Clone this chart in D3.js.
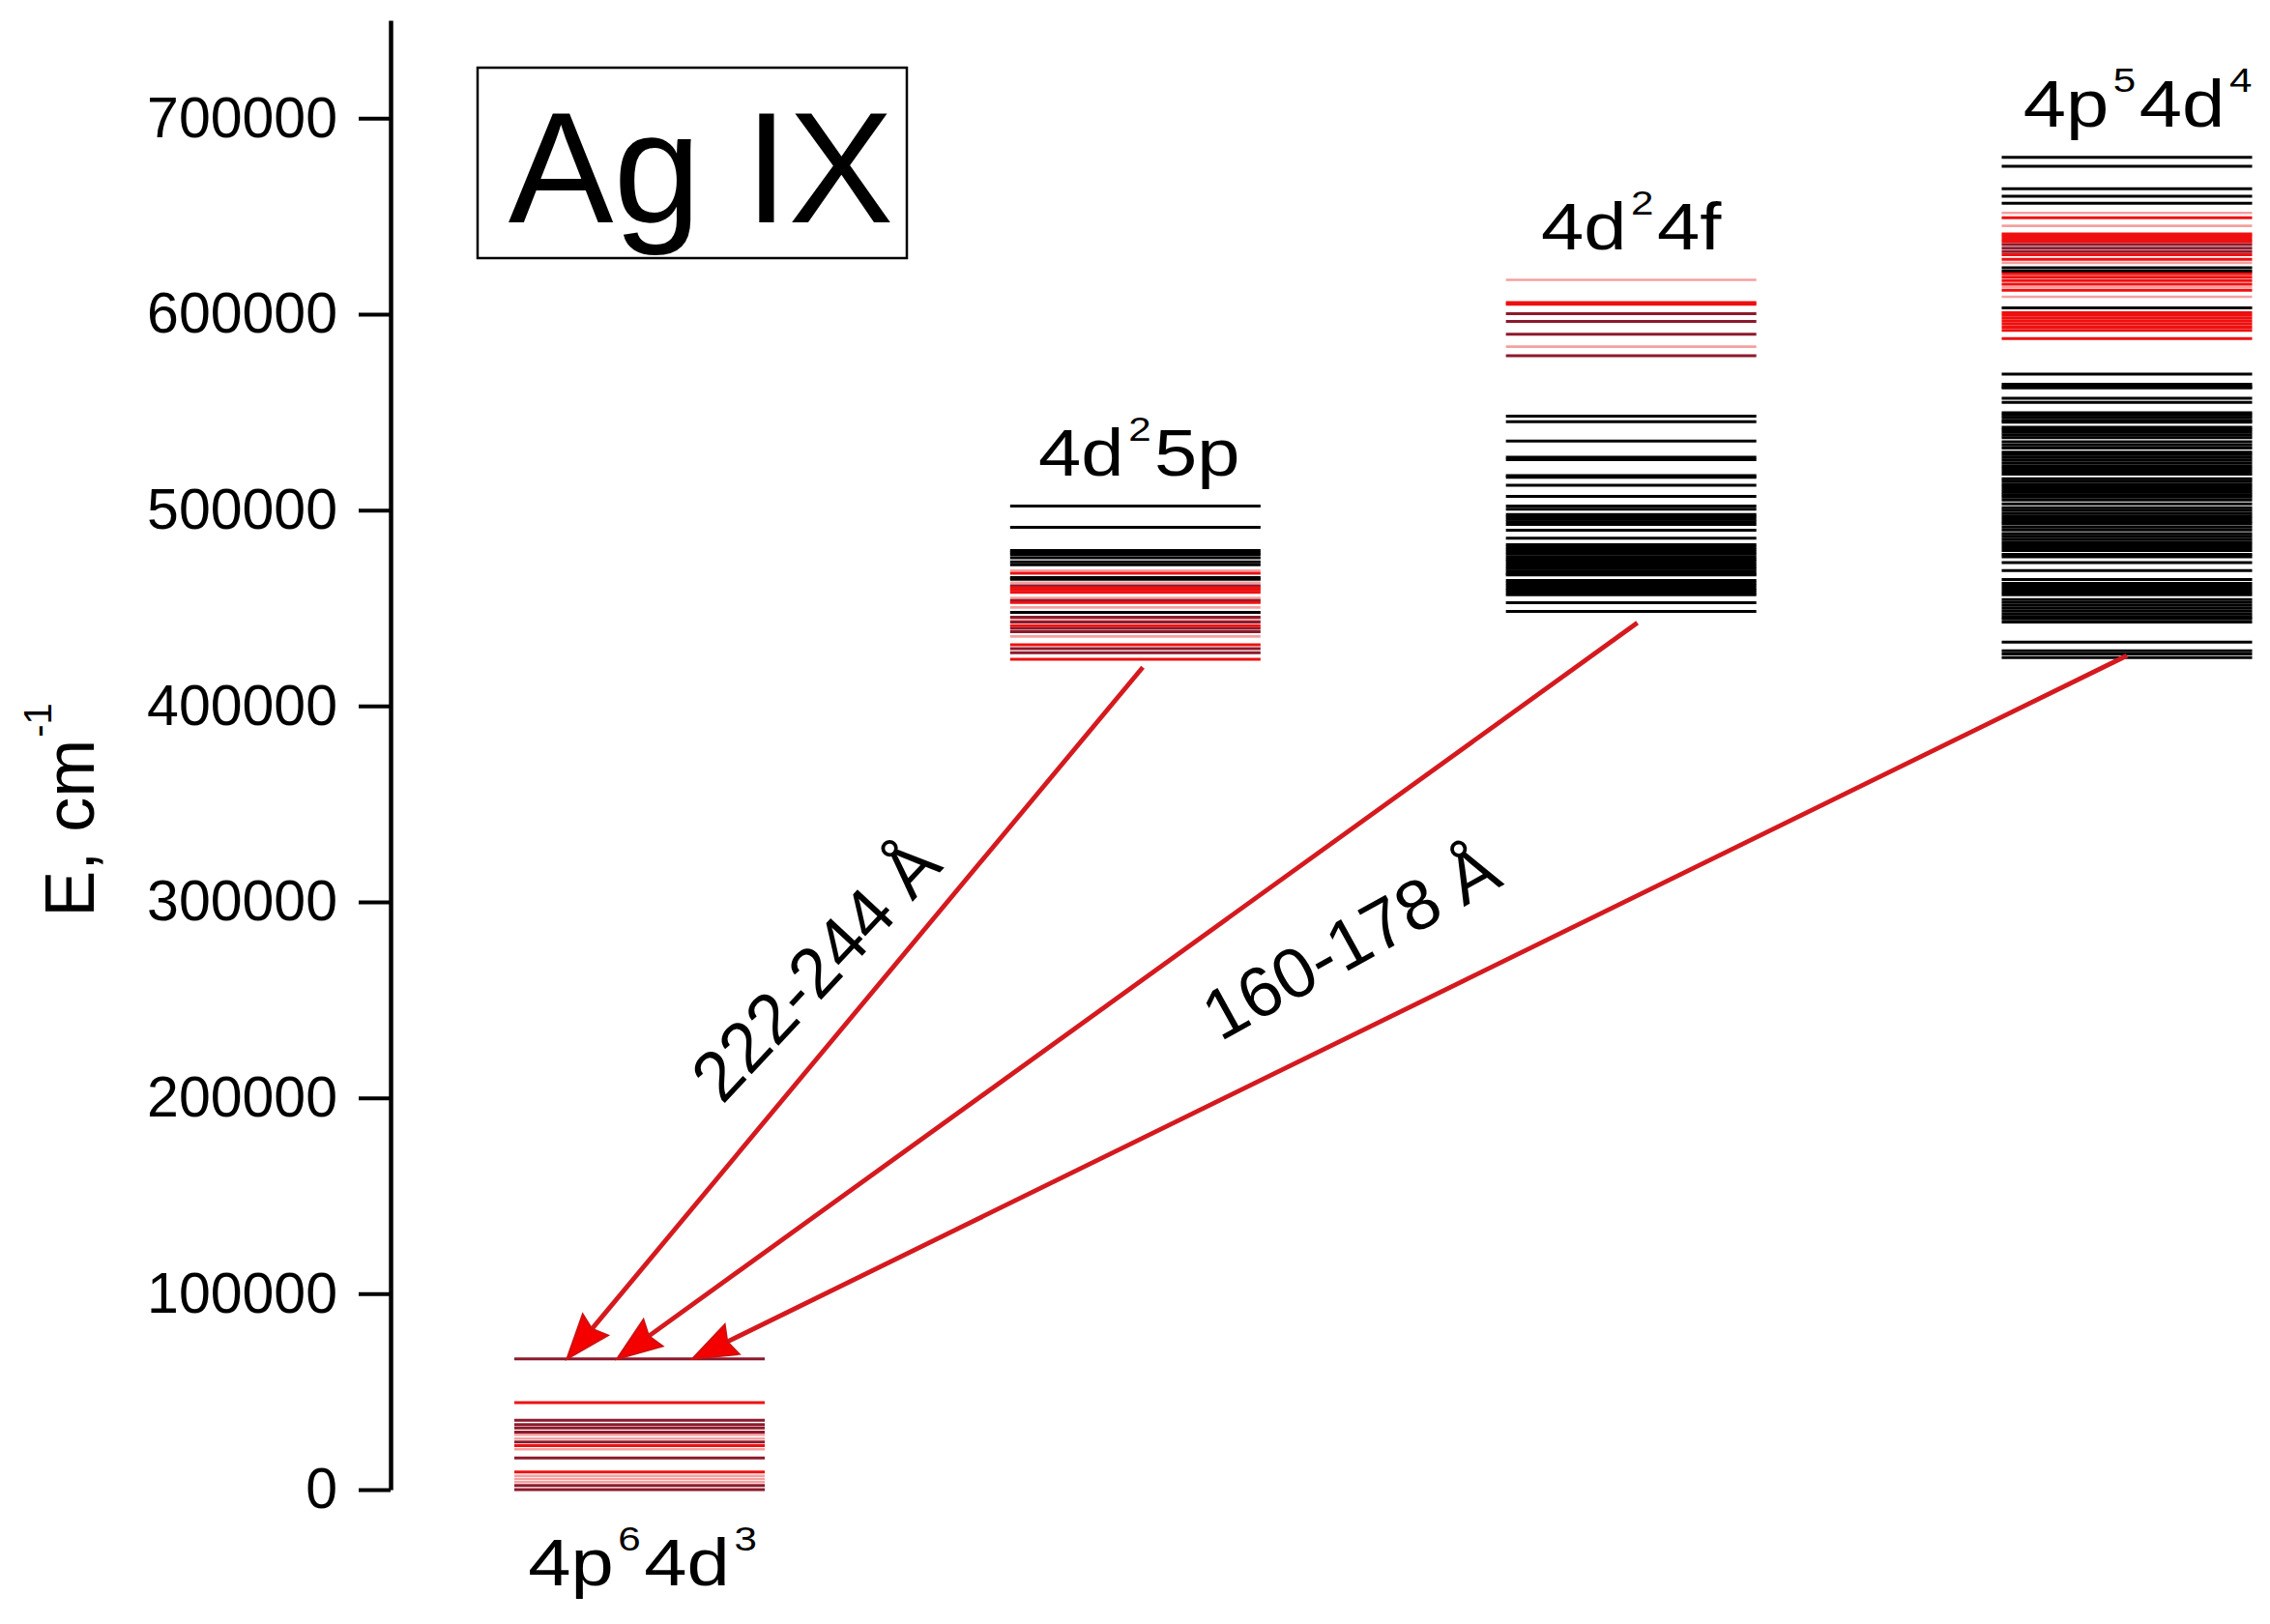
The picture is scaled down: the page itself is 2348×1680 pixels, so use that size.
<!DOCTYPE html>
<html><head><meta charset="utf-8">
<script src="https://cdn.jsdelivr.net/npm/d3@7"></script>
<style>
html,body{margin:0;padding:0;background:#fff;}
svg{display:block;}
text{font-family:"Liberation Sans",Arial,Helvetica,sans-serif;fill:#000;}
</style>
</head><body>
<svg id="chart" width="2348" height="1680"></svg>
<script>
// ---------------- DATA ----------------
const configs = ["4p64d3", "4d25p", "4d24f", "4p54d4"];
// label segments: [normal, superscript, normal, superscript ...]
const configLabels = [["4p","6","4d","3"], ["4d","2","5p"], ["4d","2","4f"], ["4p","5","4d","4"]];

const majorTicks = [0, 100000, 200000, 300000, 400000, 500000, 600000, 700000];
const minorTicks = [50000, 150000, 250000, 350000, 450000, 550000, 650000, 750000];
const yLabelMain = "E, cm";
const yLabelSup = "-1";
const title = "Ag IX";

// 4p6 4d3 (ground configuration) levels, cm-1
const groundRed  = [44400, 22400, 9000];
const groundDark = [66700, 35400, 33200, 31500, 29300, 24300, 16100, 2100, 0];
const groundPink = [28000, 26000, 20600, 7000, 5400, 3800];
const groundBlack = [];

// 4d2 5p levels
const p5Black = [502000, 491200, 479400, 478300, 477200, 475600, 473500, 472100, 465500, 464700, 447800];
const p5Red   = [467800, 460400, 459200, 458000, 452800, 441000, 431300, 423900];
const p5Dark  = [461400, 453800, 445300, 442800, 439600, 437900, 429300, 427200];
const p5Pink  = [469100, 462900, 455100, 450300, 444000, 435500];

// 4d2 4f levels
const f4Black = [548000, 545100, 535200, 527000, 525800, 517600, 516700, 512700, 507000, 502000, 500400,
  497800, 496600, 495300, 494000, 492700, 489700, 485600,
  482300, 481100, 479800, 478600, 477500, 476100, 474900, 473800, 472500, 471200, 470100, 468900, 467700, 466900,
  464100, 462800, 461600, 460300, 459100, 457900, 456800, 452700, 448300];
const f4Red  = [605900, 605100];
const f4Dark = [600300, 596300, 589700, 578800];
const f4Pink = [617500, 583400];

// 4p5 4d4 levels
const d4Black = [680000, 675500, 664000, 660200, 656600, 623700, 622000, 603200,
  569400, 564200, 563000, 562400, 557100, 555000,
  549700, 548500, 547300, 545900, 544800,
  542300, 541000, 539700, 538300, 537000,
  534900, 533300, 531700,
  529600, 528300, 527000, 525600, 524100, 522700, 521300, 519800, 518400,
  516000, 514700, 513300, 511900, 510500, 509100, 507800,
  506600, 505100, 503200,
  501200, 499800, 498400, 497000, 495600, 494200, 492900,
  491300, 489900,
  488000, 486600, 485200, 483700, 482300, 480800, 479300,
  477400, 476100, 473200, 469100, 464500,
  462600, 461100, 459600, 458200, 456800,
  454300, 452800, 451400, 449900, 448400, 446900, 445500, 444400, 442800,
  432600, 428200, 426600, 424700];
const d4Red  = [649200, 641000, 639700, 638300, 637000, 630400, 628000, 620600, 618900, 617100, 615300, 612200,
  600800, 599400, 597900, 596400, 594900, 593400, 591700, 587500];
const d4Dark = [635500, 633700, 631900];
const d4Pink = [651700, 645100, 626200, 613800, 608900];

const transitions = [
  {from: "4d25p",  to: "4p64d3", upperE: 419800, lowerE: 66700, label: "222-244 Å"},
  {from: "4d24f",  to: "4p64d3", upperE: 442500, lowerE: 66700, label: ""},
  {from: "4p54d4", to: "4p64d3", upperE: 425700, lowerE: 66700, label: "160-178 Å"}
];

// ---------------- BUILD TABLE ----------------
const levelSets = {
  "4p64d3": {black: groundBlack, pink: groundPink, dark: groundDark, red: groundRed},
  "4d25p":  {black: p5Black, pink: p5Pink, dark: p5Dark, red: p5Red},
  "4d24f":  {black: f4Black, pink: f4Pink, dark: f4Dark, red: f4Red},
  "4p54d4": {black: d4Black, pink: d4Pink, dark: d4Dark, red: d4Red}
};
const kinds = ["black", "pink", "dark", "red"];
const levelRows = [];
configs.forEach(c => kinds.forEach(k => levelSets[c][k].forEach(e => levelRows.push({config: c, kind: k, E: e}))));

// ---------------- LAYOUT ----------------
const svg = d3.select("#chart");
svg.append("rect").attr("width", 2348).attr("height", 1680).attr("fill", "#fff");

const x = d3.scalePoint().domain(configs).range([661.5, 2200]);
const y = d3.scaleLinear().domain([0, 750000]).range([1541, 21]);
const blockW = 259;
const color = d3.scaleOrdinal().domain(kinds).range(["#000000", "#f4a0a0", "#8c1a2c", "#ee1010"]);
const width = d3.scaleOrdinal().domain(kinds).range([3, 2.6, 3, 3]);

// axes
const axisG = svg.append("g").attr("transform", "translate(404,0)");
axisG.call(d3.axisLeft(y).tickValues(minorTicks).tickSize(17).tickSizeOuter(0).tickFormat(""));
axisG.call(d3.axisLeft(y).tickValues(majorTicks).tickSize(33).tickSizeOuter(0).tickPadding(22).tickFormat(d3.format("d")));
axisG.selectAll("path.domain").attr("stroke", "#000").attr("stroke-width", 4.5);
axisG.selectAll(".tick line").attr("stroke", "#000").attr("stroke-width", 4);
axisG.selectAll(".tick text").attr("font-size", 59).attr("font-family", "'Liberation Sans',Arial,sans-serif").attr("fill", "#000");

// y label
const yl = svg.append("text").attr("transform", "translate(97,838) rotate(-90)")
  .attr("text-anchor", "middle").attr("font-size", 72);
yl.append("tspan").text(yLabelMain);
yl.append("tspan").attr("font-size", 40).attr("dy", -44).attr("dx", 2).text(yLabelSup);

// level lines
svg.append("g").selectAll("line").data(levelRows).join("line")
  .attr("x1", d => x(d.config) - blockW / 2)
  .attr("x2", d => x(d.config) + blockW / 2)
  .attr("y1", d => y(d.E)).attr("y2", d => y(d.E))
  .attr("stroke", d => color(d.kind))
  .attr("stroke-width", d => width(d.kind));

// config labels
const labelShift = [3, 4, 0, 11];
configs.forEach((c, i) => {
  const all = kinds.flatMap(k => levelSets[c][k]);
  const isGround = i === 0;
  const by = isGround ? y(d3.min(all)) + 99 : y(d3.max(all)) - 32;
  const t = svg.append("text")
    .attr("transform", `translate(${x(c) + labelShift[i]},${by}) scale(1.17,1)`)
    .attr("text-anchor", "middle").attr("font-size", 68);
  configLabels[i].forEach((s, j) => {
    const sp = t.append("tspan").text(s);
    if (j % 2 === 1) sp.attr("font-size", 36).attr("dy", -36).attr("dx", 4);
    else if (j > 0) sp.attr("dy", 36).attr("dx", 3);
  });
});

// title box
svg.append("rect").attr("x", 494).attr("y", 70).attr("width", 444).attr("height", 197)
  .attr("fill", "none").attr("stroke", "#000").attr("stroke-width", 2.5);
svg.append("text").attr("x", 725).attr("y", 230).attr("text-anchor", "middle")
  .attr("font-size", 163).text(title);

// transitions (arrows)
const startFrac = [0.53, 0.525, 0.50];
const endFrac = [0.21, 0.41, 0.71];
const labelLayout = [{t: 0.491, off: 60, rot: -47}, null, {t: 0.515, off: 88, rot: -29}];
const headL = 46, headW = 17;
const arrowG = svg.append("g");
transitions.forEach((tr, i) => {
  const S = [x(tr.from) - blockW / 2 + startFrac[i] * blockW, y(tr.upperE)];
  const T = [x(tr.to) - blockW / 2 + endFrac[i] * blockW, y(tr.lowerE)];
  const dx = T[0] - S[0], dy = T[1] - S[1];
  const L = Math.hypot(dx, dy);
  const u = [dx / L, dy / L];            // from start to tip
  const n = [-u[1], u[0]];
  const B = [T[0] - u[0] * headL, T[1] - u[1] * headL];
  arrowG.append("line").attr("x1", S[0]).attr("y1", S[1])
    .attr("x2", B[0] + u[0] * 8).attr("y2", B[1] + u[1] * 8)
    .attr("stroke", "#d41a1f").attr("stroke-width", 4.8);
  const N = [T[0] - u[0] * headL * 0.88, T[1] - u[1] * headL * 0.88];
  const pts = [T, [B[0] + n[0] * headW, B[1] + n[1] * headW], N, [B[0] - n[0] * headW, B[1] - n[1] * headW]];
  arrowG.append("path").attr("d", "M" + pts.map(p => p.join(",")).join("L") + "Z")
    .attr("fill", "#f40000").attr("stroke", "#d01010").attr("stroke-width", 2);

  const lay = labelLayout[i];
  if (lay && tr.label) {
    const P = [S[0] + u[0] * lay.t * L, S[1] + u[1] * lay.t * L];
    const perp = [-u[1], u[0]];
    const pp = (perp[1] < 0) ? perp : [-perp[0], -perp[1]];   // up-left side
    const C = [P[0] + pp[0] * lay.off, P[1] + pp[1] * lay.off];
    svg.append("text").attr("transform", `translate(${C[0]},${C[1]}) rotate(${lay.rot})`)
      .attr("text-anchor", "middle").attr("dominant-baseline", "central")
      .attr("font-size", 73).text(tr.label);
  }
});
</script>
</body></html>
